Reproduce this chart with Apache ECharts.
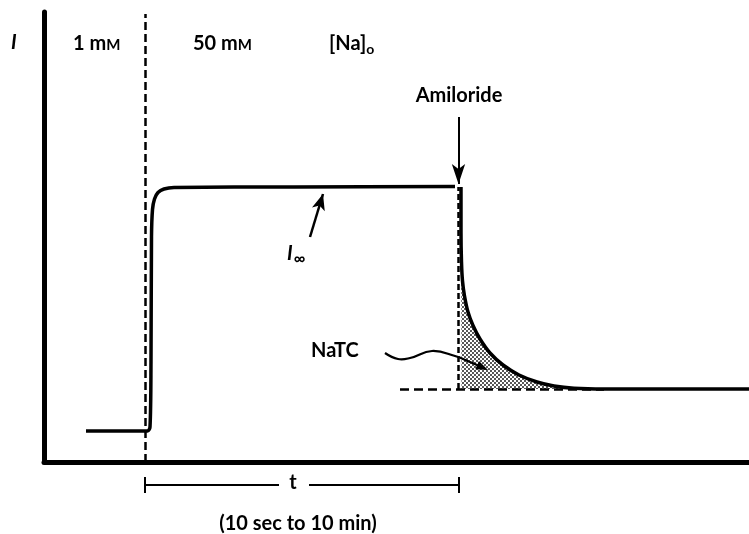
<!DOCTYPE html>
<html>
<head>
<meta charset="utf-8">
<script src="https://cdn.jsdelivr.net/npm/echarts@6/dist/echarts.min.js"></script>
<style>
  html, body { margin: 0; padding: 0; background: #fff; }
  #chart { width: 749px; height: 534px; }
</style>
</head>
<body>
<div id="chart"></div>
<script>
// Short-circuit current I versus time t (arbitrary units).
// Step from 1 mM to 50 mM [Na]o, then block with amiloride.
const riseT  = [8.4, 20.7, 21.2, 21.4, 21.5, 21.7, 22.1, 22.8, 24.0, 26.0, 50.0, 82.2];
const riseI  = [6.2, 6.2, 7.0, 20.0, 45.0, 50.5, 52.6, 53.9, 54.6, 54.9, 55.0, 55.1];
const decayT = [83.4, 83.4, 83.5, 83.7, 84.1, 84.8, 85.8, 87.2, 89.2, 91.8, 95.0, 98.6, 102.0, 106.0, 112.0, 141];
const decayI = [55.0, 46.0, 40.0, 36.2, 33.2, 30.0, 27.3, 24.6, 21.8, 19.4, 17.4, 16.0, 15.2, 14.75, 14.6, 14.6];

const switchT = 20.2;     // solution change 1 mM -> 50 mM
const amilorideT = 82.8;  // amiloride added
const residualI = 14.6;   // current level left after amiloride
const axisMax = { t: 141, i: 90 };

const FONT = 'Lato, "Open Sans", sans-serif';

// Stipple fill for the NaTC area
function stipple() {
  const c = document.createElement('canvas');
  c.width = 4; c.height = 4;
  const g = c.getContext('2d');
  g.fillStyle = '#fff'; g.fillRect(0, 0, 4, 4);
  g.fillStyle = '#111';
  g.beginPath(); g.arc(1, 1, 0.95, 0, Math.PI * 2); g.fill();
  g.beginPath(); g.arc(3, 3, 0.95, 0, Math.PI * 2); g.fill();
  return c;
}

const zip = (a, b) => a.map((v, k) => [v, b[k]]);

const chart = echarts.init(document.getElementById('chart'), null, { renderer: 'canvas' });

const axisCommon = {
  type: 'value',
  axisTick: { show: false },
  axisLabel: { show: false },
  splitLine: { show: false }
};

chart.setOption({
  animation: false,
  backgroundColor: '#fff',
  grid: { left: 44, right: 0, top: 12, bottom: 72 },
  xAxis: Object.assign({}, axisCommon, {
    min: 0, max: axisMax.t,
    axisLine: { show: true, onZero: false, lineStyle: { color: '#000', width: 5 } }
  }),
  yAxis: Object.assign({}, axisCommon, {
    min: 0, max: axisMax.i,
    axisLine: { show: true, onZero: false, lineStyle: { color: '#000', width: 5 } }
  }),
  series: [
    {
      name: 'rise',
      type: 'line',
      data: zip(riseT, riseI),
      smooth: 0.3,
      symbol: 'none',
      clip: false,
      z: 3,
      lineStyle: { color: '#000', width: 3.5 },
      markLine: {
        silent: true,
        symbol: ['none', 'none'],
        label: { show: false },
        data: [
          // solution change
          [{ coord: [switchT, 0], lineStyle: { type: [8, 4], width: 2.5, color: '#000' } },
           { coord: [switchT, 89.6] }],
          // amiloride addition
          [{ coord: [amilorideT, residualI], lineStyle: { type: [6, 3], width: 2.5, color: '#000' } },
           { coord: [amilorideT, 55] }],
          // residual level
          [{ coord: [71.2, residualI], lineStyle: { type: [9, 5], width: 2.5, color: '#000' } },
           { coord: [112, residualI] }],
          // amiloride arrow
          [{ coord: [amilorideT + 0.1, 69], symbol: 'none', lineStyle: { type: 'solid', width: 2, color: '#000' } },
           { coord: [amilorideT + 0.1, 55.6], symbol: 'arrow', symbolSize: [10, 20] }],
          // I-infinity pointer
          [{ coord: [53.2, 45], symbol: 'none', lineStyle: { type: 'solid', width: 2.5, color: '#000', curveness: -0.38 } },
           { coord: [55.8, 53.6], symbol: 'arrow', symbolSize: [10, 16] }]
        ]
      }
    },
    {
      name: 'decay',
      type: 'line',
      data: zip(decayT, decayI),
      smooth: 0.2,
      symbol: 'none',
      z: 3,
      lineStyle: { color: '#000', width: 3.5 },
      areaStyle: { origin: residualI, color: { image: stipple(), repeat: 'repeat' }, opacity: 1 }
    }
  ]
});

// Annotations
const p0 = chart.convertToPixel({ gridIndex: 0 }, [switchT, 0]);
const p1 = chart.convertToPixel({ gridIndex: 0 }, [amilorideT, 0]);
const barY = 485;

// wavy NaTC pointer
const wave = [[385, 353], [398, 359], [410, 358], [432, 351], [455, 356], [470, 362], [479, 366]];
const tip = [488, 370];
const dx = tip[0] - 479, dy = tip[1] - 366, len = Math.hypot(dx, dy);
const ux = dx / len, uy = dy / len;
const head = [tip, [479 - uy * 4.5 - ux * 2, 366 + ux * 4.5 - uy * 2], [479 + uy * 4.5 - ux * 2, 366 - ux * 4.5 - uy * 2]];

const Z = 100;
const txt = (x, y, text, extra) => ({
  type: 'text', x, y, z: Z,
  style: Object.assign({ text, fill: '#000', font: 'bold 20px ' + FONT, textVerticalAlign: 'middle' }, extra || {})
});
const seg = (x1, y1, x2, y2) => ({
  type: 'line', z: Z, shape: { x1, y1, x2, y2 }, style: { stroke: '#000', lineWidth: 2 }
});
const mM = (x, num) => ({
  type: 'text', x, y: 44, z: Z,
  style: {
    text: '{n|' + num + ' m}{s|M}', textVerticalAlign: 'middle',
    rich: { n: { font: 'bold 20px ' + FONT, fill: '#000' }, s: { font: 'bold 15px ' + FONT, fill: '#000', padding: [3, 0, 0, 0] } }
  }
});

chart.setOption({
  graphic: [
    txt(11, 43, 'I', { font: 'italic bold 20px ' + FONT }),
    mM(73, '1'),
    mM(193, '50'),
    {
      type: 'text', x: 329, y: 44, z: Z,
      style: {
        text: '{n|[Na]}{s|o}', textVerticalAlign: 'middle',
        rich: { n: { font: 'bold 20px ' + FONT, fill: '#000' }, s: { font: 'bold 14px ' + FONT, fill: '#000', padding: [10, 0, 0, 0] } }
      }
    },
    txt(459, 96, 'Amiloride', { textAlign: 'center' }),
    {
      type: 'text', x: 287, y: 254, z: Z,
      style: {
        text: '{n|I}{s|∞}', textVerticalAlign: 'middle',
        rich: { n: { font: 'italic bold 20px ' + FONT, fill: '#000' }, s: { font: 'bold 16px ' + FONT, fill: '#000', padding: [10, 0, 0, 1] } }
      }
    },
    txt(311, 351, 'NaTC'),
    { type: 'polyline', z: Z, shape: { points: wave, smooth: 0.45 }, style: { stroke: '#000', lineWidth: 2.2, fill: null } },
    { type: 'polygon', z: Z, shape: { points: head }, style: { fill: '#000' } },
    // t bar
    seg(p0[0], barY, 279, barY),
    seg(309, barY, p1[0] + 1, barY),
    seg(p0[0], barY - 8, p0[0], barY + 8),
    seg(p1[0] + 1, barY - 8, p1[0] + 1, barY + 8),
    txt(293, 483, 't', { textAlign: 'center' }),
    txt(298, 524, '(10 sec to 10 min)', { textAlign: 'center' })
  ]
});
</script>
</body>
</html>
